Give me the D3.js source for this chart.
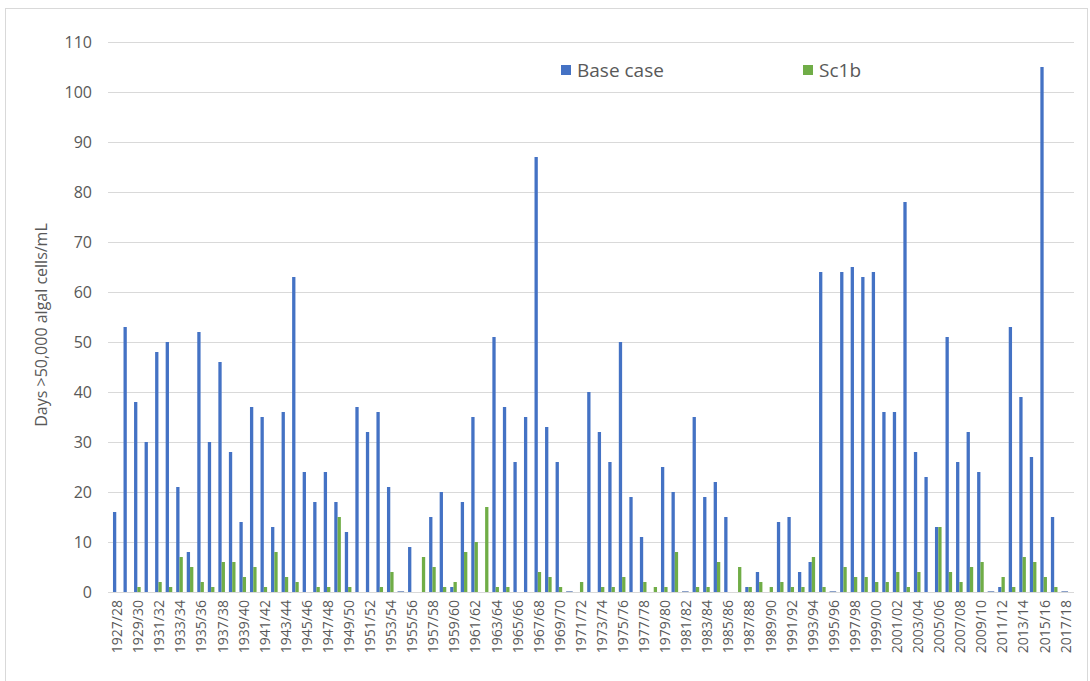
<!DOCTYPE html>
<html>
<head>
<meta charset="utf-8">
<script src="https://cdn.jsdelivr.net/npm/d3@7/dist/d3.min.js"></script>
<style>
  html, body { margin: 0; padding: 0; background: #ffffff; }
  svg { display: block; }
  text { font-family: "Open Sans", "Noto Sans", sans-serif; fill: #595959; }
</style>
</head>
<body>
<svg id="chart" width="1090" height="681"></svg>
<script>
const startYears = d3.range(1927, 2018);
const categories = startYears.map(y => y + "/" + String((y + 1) % 100).padStart(2, "0"));

const baseCase = [16,53,38,30,48,50,21,8,52,30,46,28,14,37,35,13,36,63,24,18,
  24,18,12,37,32,36,21,0,9,0,15,20,1,18,35,0,51,37,26,35,
  87,33,26,0,0,40,32,26,50,19,11,0,25,20,0,35,19,22,15,0,
  1,4,0,14,15,4,6,64,0,64,65,63,64,36,36,78,28,23,13,51,
  26,32,24,0,1,53,39,27,105,15,0];

const sc1b = [0,0,1,0,2,1,7,5,2,1,6,6,3,5,1,8,3,2,0,1,
  1,15,1,0,0,1,4,0,0,7,5,1,2,8,10,17,1,1,0,0,
  4,3,1,0,2,0,1,1,3,0,2,1,1,8,0,1,1,6,0,5,
  1,2,1,2,1,1,7,1,0,5,3,3,2,2,4,1,4,0,13,4,
  2,5,6,0,3,1,7,6,3,1,0];

const yTicks = [0,10,20,30,40,50,60,70,80,90,100,110];
const seriesNames = ["Base case", "Sc1b"];
const seriesColors = ["#4472C4", "#70AD47"];
const yTitle = "Days >50,000 algal cells/mL";

const svg = d3.select("#chart");

// outer chart border
svg.append("rect")
  .attr("x", 5.5).attr("y", 8.5)
  .attr("width", 1082).attr("height", 700)
  .attr("fill", "#fff").attr("stroke", "#d9d9d9").attr("stroke-width", 1);

const x = d3.scaleBand().domain(categories).range([111, 1070]).paddingInner(0).paddingOuter(0);
const y = d3.scaleLinear().domain([0, 110]).range([592, 42]);

// gridlines
svg.append("g").selectAll("line")
  .data(yTicks)
  .join("line")
  .attr("x1", 108).attr("x2", 1074)
  .attr("y1", d => Math.round(y(d)) + 0.5).attr("y2", d => Math.round(y(d)) + 0.5)
  .attr("stroke", "#d9d9d9").attr("stroke-width", 1);

// y tick labels
svg.append("g").selectAll("text")
  .data(yTicks)
  .join("text")
  .attr("x", 92).attr("y", d => y(d))
  .attr("dy", "0.35em")
  .attr("text-anchor", "end")
  .style("font-size", "16px")
  .text(d => d);

// y axis title
svg.append("text")
  .attr("transform", "translate(41,325) rotate(-90)")
  .attr("text-anchor", "middle")
  .attr("dy", "0.35em")
  .style("font-size", "16px")
  .text(yTitle);

const bw = 3.3;
const sub = d3.scaleBand().domain([0, 1]).range([-bw, bw]);

const groups = svg.append("g").selectAll("g")
  .data(categories.map((c, i) => ({c, vals: [baseCase[i], sc1b[i]]})))
  .join("g")
  .attr("transform", d => `translate(${x(d.c) + x.bandwidth() / 2},0)`);

groups.selectAll("rect")
  .data(d => d.vals.map((v, k) => ({v, k})))
  .join("rect")
  .attr("x", d => sub(d.k))
  .attr("width", sub.bandwidth())
  .attr("y", d => y(d.v))
  .attr("height", d => y(0) - y(d.v))
  .attr("fill", d => seriesColors[d.k]);

// axis baseline
svg.append("line")
  .attr("x1", 108).attr("x2", 1074)
  .attr("y1", 592.5).attr("y2", 592.5)
  .attr("stroke", "#d9d9d9").attr("stroke-width", 1);

// small dash where both series are zero
groups.filter(d => d.vals[0] === 0 && d.vals[1] === 0)
  .append("rect")
  .attr("x", -bw).attr("width", 2 * bw)
  .attr("y", y(0) - 1).attr("height", 1.5)
  .attr("fill", "#8aa0c8");

// x labels (every other category)
svg.append("g").selectAll("text")
  .data(categories.filter((c, i) => i % 2 === 0))
  .join("text")
  .attr("transform", d => `translate(${x(d) + x.bandwidth() / 2 + 1},600) rotate(-90)`)
  .attr("text-anchor", "end")
  .attr("dy", "0.35em")
  .style("font-size", "14px")
  .text(d => d);

// legend
const legendX = [561, 803];
const legend = svg.append("g").selectAll("g")
  .data(seriesNames)
  .join("g")
  .attr("transform", (d, i) => `translate(${legendX[i]},70)`);
legend.append("rect")
  .attr("x", 0).attr("y", -5).attr("width", 10).attr("height", 10)
  .attr("fill", (d, i) => seriesColors[i]);
legend.append("text")
  .attr("x", 16).attr("y", 0).attr("dy", "0.36em")
  .style("font-size", "19px")
  .text(d => d);
</script>
</body>
</html>
